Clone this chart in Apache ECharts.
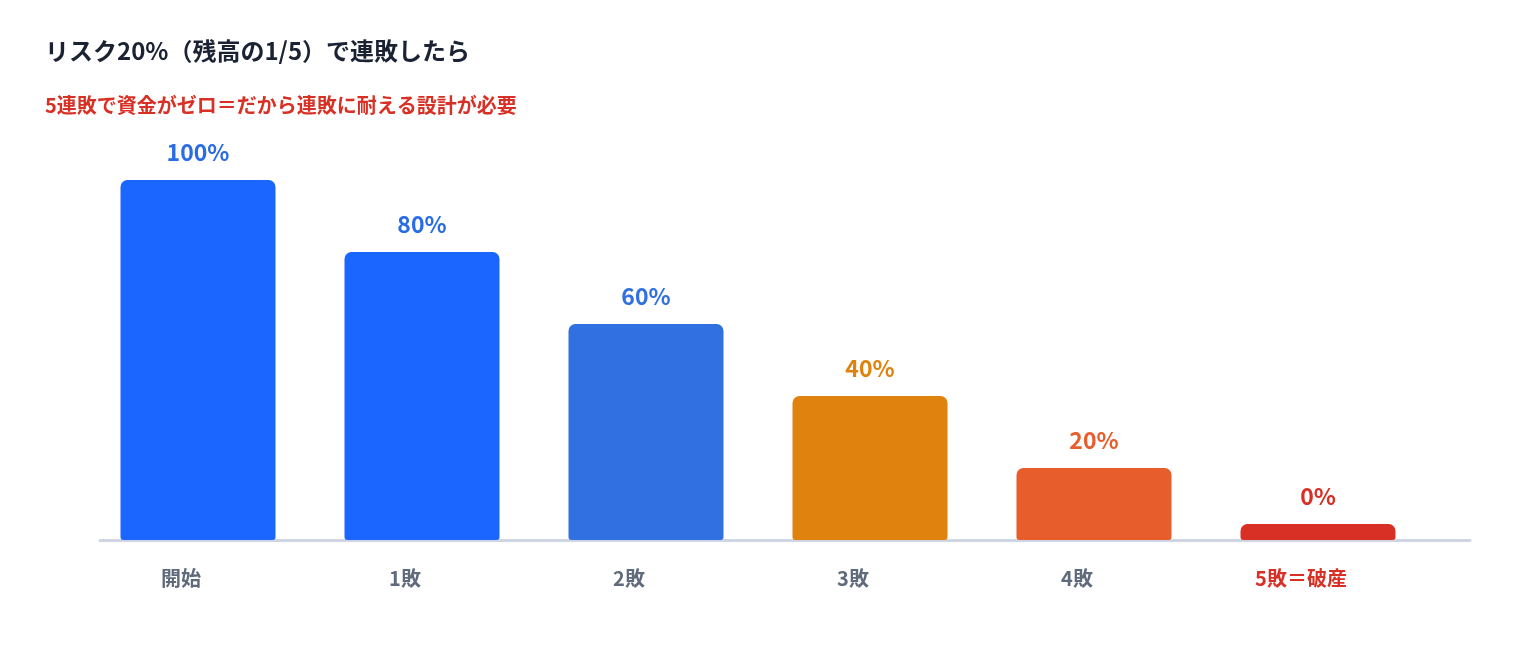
<!DOCTYPE html>
<html><head><meta charset="utf-8">
<script src="https://cdn.jsdelivr.net/npm/echarts@6/dist/echarts.min.js"></script>
<style>html,body{margin:0;background:#fff}#c{width:1520px;height:660px}</style>
</head><body><div id="c"></div>
<script>
const categories = ['開始','1敗','2敗','3敗','4敗','5敗＝破産'];
const values = [100, 80, 60, 40, 20, 0];
const labels = ['100%','80%','60%','40%','20%','0%'];
const barColors = ['#1a66ff','#1a66ff','#3070e0','#e0820e','#e85d2c','#d93025'];
const labelColors = ['#2a6ce6','#2a6ce6','#3070e0','#e0820e','#e85d2c','#d93025'];
const catColors = ['#5f6b7c','#5f6b7c','#5f6b7c','#5f6b7c','#5f6b7c','#d93025'];
const font = '"Noto Sans CJK JP","Noto Sans",sans-serif';
const chart = echarts.init(document.getElementById('c'));
chart.setOption({
  animation:false,
  textStyle:{fontFamily:font},
  title:[
    {text:'リスク20%（残高の1/5）で連敗したら',left:40,top:34,textStyle:{fontSize:24,fontWeight:'bold',color:'#1a2233',fontFamily:font}},
    {text:'5連敗で資金がゼロ＝だから連敗に耐える設計が必要',left:40,top:90,textStyle:{fontSize:20,fontWeight:'bold',color:'#d93025',fontFamily:font}}
  ],
  grid:[{left:86,right:90,top:180,bottom:120},{left:100,right:50,top:180,bottom:120}],
  xAxis:[{type:'category',data:categories,gridIndex:0,axisLine:{show:false},axisTick:{show:false},
    axisLabel:{margin:28,fontSize:20,fontWeight:'bold',padding:[0,34,0,0],
      color:(v,i)=>catColors[i]}},
    {type:'category',data:[''],gridIndex:1,axisLine:{lineStyle:{color:'#cfd5e2',width:3}},axisTick:{show:false},axisLabel:{show:false}}],
  yAxis:[{type:'value',min:0,max:100,show:false,gridIndex:0},{type:'value',show:false,gridIndex:1}],
  series:[{type:'bar',barWidth:155,barMinHeight:16,
    data:values.map((v,i)=>({value:v,itemStyle:{color:barColors[i],borderRadius:[7,7,3,3]},
      label:{show:true,position:'top',distance:16,formatter:labels[i],color:labelColors[i],fontSize:23,fontWeight:'bold'}}))}]
});
</script></body></html>
